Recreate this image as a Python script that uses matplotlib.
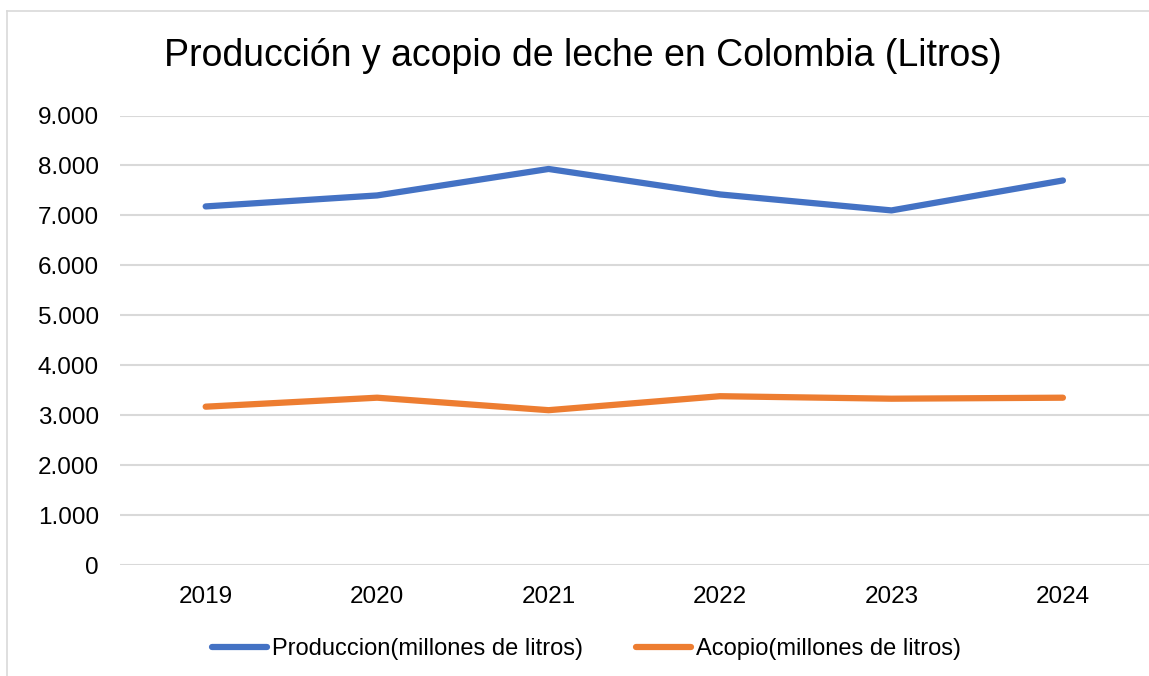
import matplotlib.pyplot as plt
from matplotlib.ticker import FuncFormatter
from matplotlib.lines import Line2D

plt.rcParams['font.family'] = ['Liberation Sans', 'DejaVu Sans']

years = ['2019', '2020', '2021', '2022', '2023', '2024']
produccion = [7180, 7400, 7930, 7420, 7100, 7700]
acopio = [3170, 3350, 3100, 3380, 3330, 3350]

fig = plt.figure(figsize=(11.49, 6.76), dpi=100)
ax = fig.add_axes([0.1044, 0.1642, 0.8953, 0.6649])

x = range(len(years))
ax.plot(x, produccion, color='#4472C4', lw=4.5, solid_capstyle='round',
        solid_joinstyle='round', label='Produccion(millones de litros)')
ax.plot(x, acopio, color='#ED7D31', lw=4.5, solid_capstyle='round',
        solid_joinstyle='round', label='Acopio(millones de litros)')

ax.set_xlim(-0.5, 5.5)
ax.set_ylim(0, 9000)
ax.set_yticks(range(0, 9001, 1000))
ax.yaxis.set_major_formatter(FuncFormatter(lambda v, p: f'{int(v):,}'.replace(',', '.')))
ax.set_xticks(list(x))
ax.set_xticklabels(years)
ax.tick_params(axis='both', length=0, labelsize=17.5, colors='black')
ax.tick_params(axis='y', pad=15)
ax.tick_params(axis='x', pad=15)
ax.grid(axis='y', color='#D9D9D9', lw=1.5)
ax.set_axisbelow(True)
for s in ax.spines.values():
    s.set_visible(False)

fig.text(0.5075, 1 - 56 / 676, 'Producción y acopio de leche en Colombia (Litros)',
         ha='center', va='center', fontsize=27)

fig.legend(loc='center', bbox_to_anchor=(0.5104, 1 - 649 / 676), ncol=2, frameon=False,
           fontsize=17, handlelength=2.35, handletextpad=0.2, columnspacing=2.25)

# chart frame (cut off at right and bottom)
fig.add_artist(Line2D([7 / 1149, 7 / 1149], [0, 1 - 11 / 676], color='#D9D9D9', lw=1.2))
fig.add_artist(Line2D([7 / 1149, 1], [1 - 11 / 676, 1 - 11 / 676], color='#D9D9D9', lw=1.2))

fig.savefig('out.png', dpi=100)
